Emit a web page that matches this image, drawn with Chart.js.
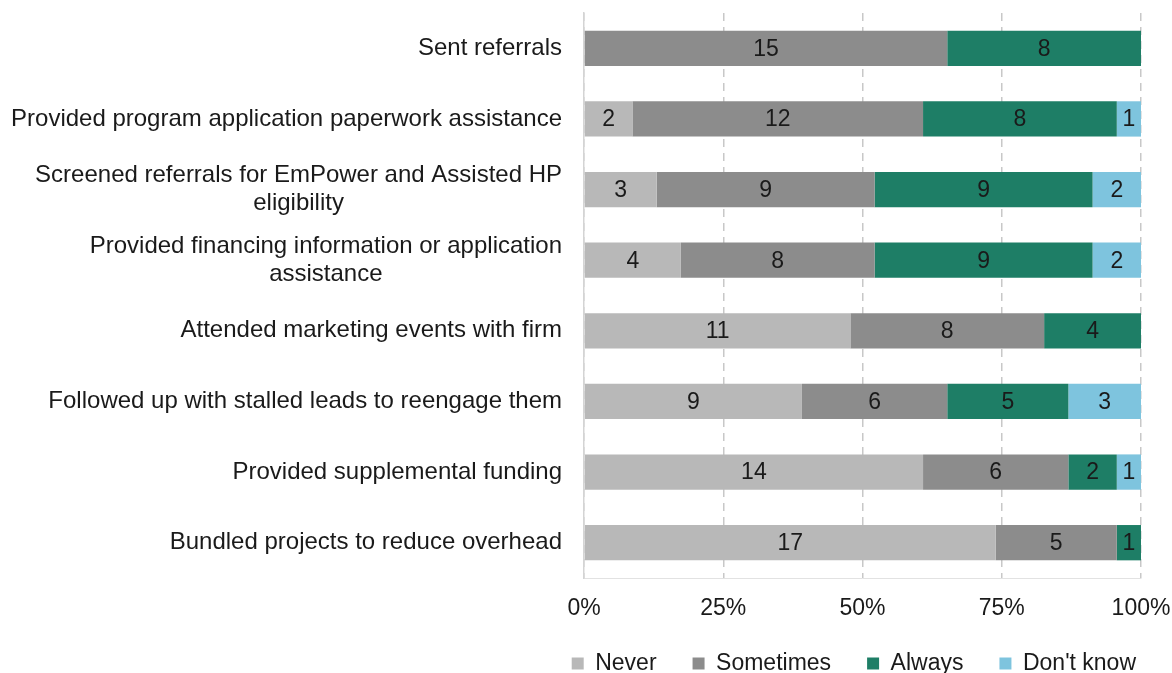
<!DOCTYPE html>
<html>
<head>
<meta charset="utf-8">
<script src="https://cdn.jsdelivr.net/npm/chart.js@4.4.1/dist/chart.umd.min.js"></script>
<style>
  html, body { margin: 0; padding: 0; background: #fff; }
  #wrap { width: 1172px; height: 673px; }
</style>
</head>
<body>
<div id="wrap"><canvas id="chart"></canvas></div>
<script>
const categories = [
  ["Sent referrals"],
  ["Provided program application paperwork assistance"],
  ["Screened referrals for EmPower and Assisted HP", "eligibility"],
  ["Provided financing information or application", "assistance"],
  ["Attended marketing events with firm"],
  ["Followed up with stalled leads to reengage them"],
  ["Provided supplemental funding"],
  ["Bundled projects to reduce overhead"]
];
const seriesNames = ["Never", "Sometimes", "Always", "Don't know"];
const never = [0, 2, 3, 4, 11, 9, 14, 17];
const sometimes = [15, 12, 9, 8, 8, 6, 6, 5];
const always = [8, 8, 9, 9, 4, 5, 2, 1];
const dontKnow = [0, 1, 2, 2, 0, 3, 1, 0];
const xTicks = [0, 25, 50, 75, 100];

const FONT = "'Liberation Sans', Arial, sans-serif";
const colors = ["#b8b8b8", "#8c8c8c", "#1e7e66", "#7ec4de"];
const counts = [never, sometimes, always, dontKnow];

const totals = categories.map((_, i) => counts.reduce((s, arr) => s + arr[i], 0));

function toPercent(arr) {
  return arr.map((v, i) => totals[i] ? v / totals[i] * 100 : 0);
}

// count labels inside each segment
const segmentLabels = {
  id: "segmentLabels",
  afterDatasetsDraw(chart) {
    const ctx = chart.ctx;
    ctx.save();
    ctx.font = "23px " + FONT;
    ctx.fillStyle = "#1a1a1a";
    ctx.textAlign = "center";
    ctx.textBaseline = "middle";
    chart.data.datasets.forEach((ds, di) => {
      const meta = chart.getDatasetMeta(di);
      meta.data.forEach((bar, i) => {
        const n = counts[di][i];
        if (!n) return;
        ctx.fillText(String(n), (bar.x + bar.base) / 2, bar.y + 1);
      });
    });
    ctx.restore();
  }
};

// category labels: block right-aligned, lines centred within the block
const categoryLabels = {
  id: "categoryLabels",
  afterDraw(chart) {
    const scale = chart.scales.y;
    const ctx = chart.ctx;
    const right = chart.chartArea.left - 22;
    const lh = 28;
    ctx.save();
    ctx.font = "24px " + FONT;
    ctx.fillStyle = "#1a1a1a";
    ctx.textAlign = "center";
    ctx.textBaseline = "middle";
    categories.forEach((lines, i) => {
      const y = scale.getPixelForTick(i);
      const w = Math.max(...lines.map(l => ctx.measureText(l).width));
      const cx = right - w / 2;
      const y0 = y - (lines.length - 1) * lh / 2;
      lines.forEach((l, k) => ctx.fillText(l, cx, y0 + k * lh));
    });
    ctx.restore();
  }
};

const datasets = seriesNames.map((name, di) => ({
  label: name,
  data: toPercent(counts[di]),
  backgroundColor: colors[di],
  borderWidth: 0,
  barPercentage: 0.5,
  categoryPercentage: 1.0
}));

new Chart(document.getElementById("chart"), {
  type: "bar",
  data: {
    labels: categories.map(c => c.join(" ")),
    datasets: datasets
  },
  options: {
    indexAxis: "y",
    responsive: true,
    maintainAspectRatio: false,
    animation: false,
    layout: { padding: { top: 13, right: 0, left: 0, bottom: -12 } },
    plugins: {
      legend: {
        position: "bottom",
        align: "end",
        labels: {
          color: "#1a1a1a",
          font: { family: FONT, size: 23 },
          boxWidth: 12,
          boxHeight: 12,
          padding: 36
        }
      },
      tooltip: { enabled: false }
    },
    scales: {
      x: {
        stacked: true,
        min: 0,
        max: 100,
        afterBuildTicks(scale) {
          scale.ticks = xTicks.map(v => ({ value: v }));
        },
        afterFit(scale) {
          scale.height = 38;
          scale.paddingRight = 31;
        },
        ticks: {
          color: "#1a1a1a",
          font: { family: FONT, size: 23 },
          padding: 17,
          callback: v => v + "%"
        },
        grid: {
          color: "#c8c8c8",
          lineWidth: 1.5,
          drawTicks: false
        },
        border: { display: true, color: "#e2e2e2", width: 1, dash: [8, 6] }
      },
      y: {
        stacked: true,
        afterFit(scale) { scale.width = 584; },
        ticks: { display: false },
        grid: { display: false },
        border: { display: true, color: "#d4d4d4", width: 1.5 }
      }
    }
  },
  plugins: [segmentLabels, categoryLabels]
});
</script>
</body>
</html>
